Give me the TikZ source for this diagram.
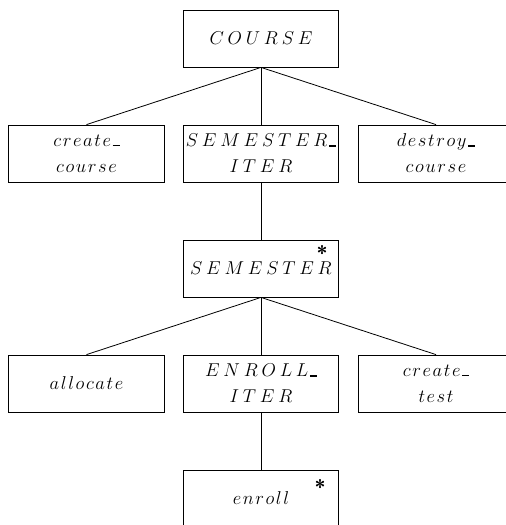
\documentclass[tikz,border=0pt]{standalone}
\usepackage{fix-cm}

% letter-spaced math italic: \spc[gap]{LETTERS}
\makeatletter
\newcommand\spc[2][3pt]{\def\spc@gap{#1}\spc@loop#2\spc@end}
\def\spc@loop#1#2\spc@end{#1\ifx\relax#2\relax\else\kern\spc@gap\spc@loop#2\spc@end\fi}
\makeatother
\newcommand\capsp[1]{\spc[3.8pt]{#1}}
\newcommand\lowsp[1]{\spc[1.6pt]{#1}}
% short heavy underscore joining split names
\newcommand\usc{\kern1.5pt\rule{7pt}{1.6pt}}

\begin{document}
\begin{tikzpicture}[x=1pt,y=-1pt,
  box/.style={draw, line width=0.8pt, minimum width=155.5pt, minimum height=57pt,
    inner sep=0pt, align=center, font=\fontsize{18.6}{26}\selectfont},
  star/.style={inner sep=0pt, anchor=north, font=\fontsize{20}{22}\selectfont\sffamily\bfseries},
  link/.style={line width=0.8pt}]
\clip (0,0) rectangle (506,525);

\node[box] (course)  at (261,38.5)  {$\capsp{COURSE}$};

\node[box] (ccourse) at (86.5,153.5) {$\lowsp{create}$\usc\\$\lowsp{course}$};
\node[box] (semit)   at (261,153.5)  {$\capsp{SEMESTER}$\usc\\$\capsp{ITER}$};
\node[box] (dcourse) at (436,153.5)  {$\lowsp{destroy}$\usc\\$\lowsp{course}$};

\node[box] (sem)     at (261,268.5)  {$\capsp{SEMESTER}$};
\node[star] (semstar) at (322,245) {*};

\node[box] (alloc)   at (86.5,383.5) {$\lowsp{allocate}$};
\node[box] (enrit)   at (261,383.5)  {$\capsp{ENROLL}$\usc\\$\capsp{ITER}$};
\node[box] (ctest)   at (436,383.5)  {$\lowsp{create}$\usc\\$\lowsp{test}$};

\node[box] (enroll)  at (261,498.5)  {$\lowsp{enroll}$};
\node[star] (enstar) at (320,479) {*};

\draw[link] (course.south) -- (ccourse.north);
\draw[link] (course.south) -- (semit.north);
\draw[link] (course.south) -- (dcourse.north);
\draw[link] (semit.south) -- (sem.north);
\draw[link] (sem.south) -- (alloc.north);
\draw[link] (sem.south) -- (enrit.north);
\draw[link] (sem.south) -- (ctest.north);
\draw[link] (enrit.south) -- (enroll.north);
\end{tikzpicture}
\end{document}
